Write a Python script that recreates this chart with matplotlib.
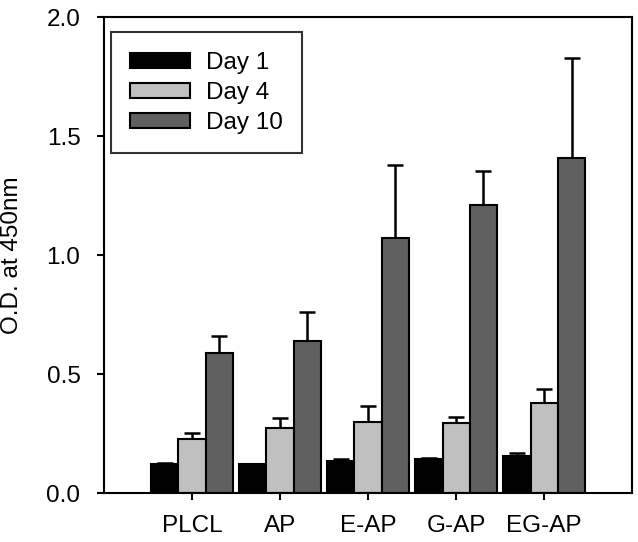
import numpy as np
import matplotlib
matplotlib.use("Agg")
import matplotlib.pyplot as plt

plt.rcParams['font.family'] = ['Liberation Sans', 'DejaVu Sans']

groups = ["PLCL", "AP", "E-AP", "G-AP", "EG-AP"]
series = ["Day 1", "Day 4", "Day 10"]
day1 = [0.122, 0.120, 0.134, 0.143, 0.155]
day1_err = [0.005, 0.0, 0.008, 0.004, 0.013]
day4 = [0.225, 0.273, 0.298, 0.294, 0.378]
day4_err = [0.027, 0.042, 0.068, 0.026, 0.059]
day10 = [0.590, 0.640, 1.070, 1.210, 1.410]
day10_err = [0.070, 0.120, 0.310, 0.145, 0.420]
colors = ["#000000", "#c0c0c0", "#606060"]

fig = plt.figure(figsize=(6.38, 5.42), dpi=100)
ax = fig.add_axes([0.163, 0.0904, 0.828, 0.878])

x = np.arange(1, len(groups) + 1)
w = 0.31
vals = [day1, day4, day10]
errs = [day1_err, day4_err, day10_err]
for i in range(3):
    pos = x + (i - 1) * w
    ax.bar(pos, vals[i], w, color=colors[i], edgecolor="black", linewidth=1.5,
           label=series[i], zorder=2)
    ax.errorbar(pos, vals[i], yerr=[np.zeros(5), errs[i]], fmt="none",
                ecolor="black", elinewidth=1.8, capsize=6, capthick=1.8, zorder=1)

ax.set_xlim(0, 6)
ax.set_ylim(0, 2.0)
ax.set_xticks(x)
ax.set_xticklabels(groups)
ax.set_yticks([0.0, 0.5, 1.0, 1.5, 2.0])
ax.set_yticklabels(["0.0", "0.5", "1.0", "1.5", "2.0"])
ax.tick_params(axis="both", direction="out", length=5, width=1.5, labelsize=17.5)
ax.tick_params(axis="x", pad=11)
ax.tick_params(axis="y", pad=12)
for s in ax.spines.values():
    s.set_linewidth(1.5)

ax.set_ylabel("O.D. at 450nm", fontsize=17.5)
ax.yaxis.set_label_coords(-0.153, 0.5)

leg = ax.legend(loc="upper left", bbox_to_anchor=(0.013, 0.968), borderaxespad=0,
                fontsize=17.5, frameon=True, fancybox=False, shadow=False,
                handlelength=2.45, handleheight=0.6, handletextpad=0.65,
                labelspacing=0.33, borderpad=0.8)
leg.get_frame().set_edgecolor("black")
leg.get_frame().set_linewidth(1.5)

fig.savefig("out.png", dpi=100)
